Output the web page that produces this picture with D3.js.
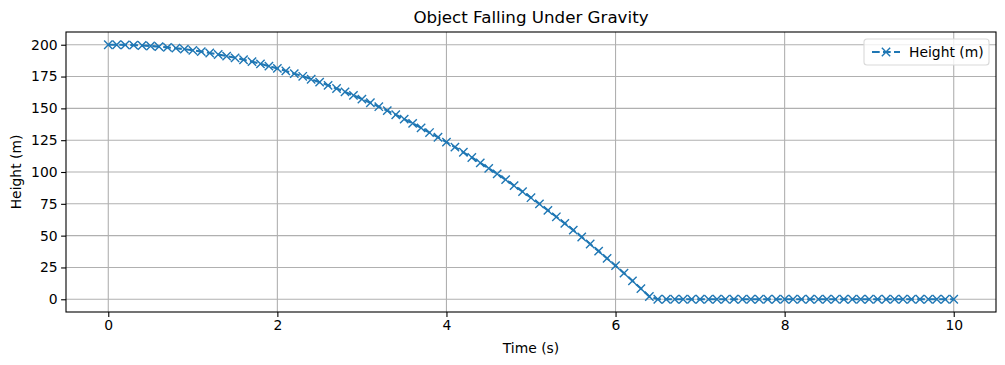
<!DOCTYPE html>
<html>
<head>
<meta charset="utf-8">
<script src="https://cdn.jsdelivr.net/npm/d3@7"></script>
<style>
  body { margin: 0; background: #fff; }
  svg text { font-family: "DejaVu Sans", sans-serif; fill: #000; }
</style>
</head>
<body>
<svg id="chart" width="1005" height="365"></svg>
<script>
// time in seconds, 0.1 s steps
var times = d3.range(0, 101).map(i => i / 10)
// height (m)
var heights = [
  200.0, 200.0, 199.9, 199.7, 199.4, 199.0, 198.5, 197.9, 197.3, 196.5,
  195.6, 194.6, 193.5, 192.3, 191.1, 189.7, 188.2, 186.7, 185.0, 183.2,
  181.4, 179.4, 177.3, 175.2, 172.9, 170.6, 168.1, 165.6, 162.9, 160.2,
  157.3, 154.4, 151.3, 148.2, 145.0, 141.6, 138.2, 134.7, 131.0, 127.3,
  123.5, 119.6, 115.5, 111.4, 107.2, 102.9, 98.5, 94.0, 89.3, 84.6,
  79.8, 74.9, 69.9, 64.8, 59.6, 54.3, 48.9, 43.4, 37.8, 32.1,
  26.4, 20.5, 14.5, 8.4, 2.2, 0, 0, 0, 0, 0,
  0, 0, 0, 0, 0, 0, 0, 0, 0, 0,
  0, 0, 0, 0, 0, 0, 0, 0, 0, 0,
  0, 0, 0, 0, 0, 0, 0, 0, 0, 0,
  0
]
var xTicks = [0, 2, 4, 6, 8, 10]
var yTicks = [0, 25, 50, 75, 100, 125, 150, 175, 200]

var svg = d3.select("#chart")
var margin = {top: 32, right: 9, bottom: 53, left: 66}
var width = +svg.attr("width") - margin.left - margin.right
var height = +svg.attr("height") - margin.top - margin.bottom
var color = "#1f77b4"

var g = svg.append("g").attr("transform", "translate(" + margin.left + "," + margin.top + ")")

var xscale = d3.scaleLinear().domain([-0.5, 10.5]).range([0, width])
var yscale = d3.scaleLinear().domain([-10, 210]).range([height, 0])

// grid
g.append("g").selectAll("line").data(xTicks).enter().append("line")
  .attr("x1", d => xscale(d)).attr("x2", d => xscale(d))
  .attr("y1", 0).attr("y2", height)
  .attr("stroke", "#b0b0b0").attr("stroke-width", 1.1)
g.append("g").selectAll("line").data(yTicks).enter().append("line")
  .attr("y1", d => yscale(d)).attr("y2", d => yscale(d))
  .attr("x1", 0).attr("x2", width)
  .attr("stroke", "#b0b0b0").attr("stroke-width", 1.1)

// axes
var xAxis = d3.axisBottom(xscale).tickValues(xTicks).tickSize(4.9).tickPadding(3.5).tickFormat(d3.format("d"))
var yAxis = d3.axisLeft(yscale).tickValues(yTicks).tickSize(4.9).tickPadding(3.5).tickFormat(d3.format("d"))

var gx = g.append("g").attr("transform", "translate(0," + height + ")").call(xAxis)
var gy = g.append("g").call(yAxis)
;[gx, gy].forEach(a => {
  a.select(".domain").remove()
  a.selectAll(".tick line").attr("stroke", "#000").attr("stroke-width", 1.1)
  a.selectAll(".tick text").attr("font-size", "13.9px").style("font-family", "DejaVu Sans")
})

// line + markers
var line = d3.line().x((d, i) => xscale(times[i])).y(d => yscale(d))
g.append("path").datum(heights)
  .attr("d", line)
  .attr("fill", "none")
  .attr("stroke", color)
  .attr("stroke-width", 2.08)
  .attr("stroke-dasharray", "7.7,3.3")

var ms = 4.17
var xMark = "M" + -ms + "," + -ms + "L" + ms + "," + ms + "M" + -ms + "," + ms + "L" + ms + "," + -ms
g.append("g").selectAll("path").data(heights).enter().append("path")
  .attr("transform", (d, i) => "translate(" + xscale(times[i]) + "," + yscale(d) + ")")
  .attr("d", xMark)
  .attr("stroke", color)
  .attr("stroke-width", 1.39)
  .attr("fill", "none")

// frame
g.append("rect").attr("width", width).attr("height", height)
  .attr("fill", "none").attr("stroke", "#000").attr("stroke-width", 1.1)

// labels
svg.append("text").attr("x", margin.left + width / 2).attr("y", 23)
  .attr("text-anchor", "middle").attr("font-size", "16.7px").text("Object Falling Under Gravity")
svg.append("text").attr("x", margin.left + width / 2).attr("y", 353)
  .attr("text-anchor", "middle").attr("font-size", "13.9px").text("Time (s)")
svg.append("text").attr("transform", "translate(21," + (margin.top + height / 2) + ") rotate(-90)")
  .attr("text-anchor", "middle").attr("font-size", "13.9px").text("Height (m)")

// legend
var lg = svg.append("g").attr("transform", "translate(864,39)")
lg.append("rect").attr("width", 125).attr("height", 26).attr("rx", 3)
  .attr("fill", "#fff").attr("fill-opacity", 0.8).attr("stroke", "#d9d9d9").attr("stroke-width", 1.1)
lg.append("line").attr("x1", 8).attr("x2", 36).attr("y1", 13).attr("y2", 13)
  .attr("stroke", color).attr("stroke-width", 2.08).attr("stroke-dasharray", "7.7,3.3")
lg.append("path").attr("transform", "translate(22,13)")
  .attr("d", xMark)
  .attr("stroke", color).attr("stroke-width", 1.39)
lg.append("text").attr("x", 45).attr("y", 18).attr("font-size", "13.9px").text("Height (m)")
</script>
</body>
</html>
